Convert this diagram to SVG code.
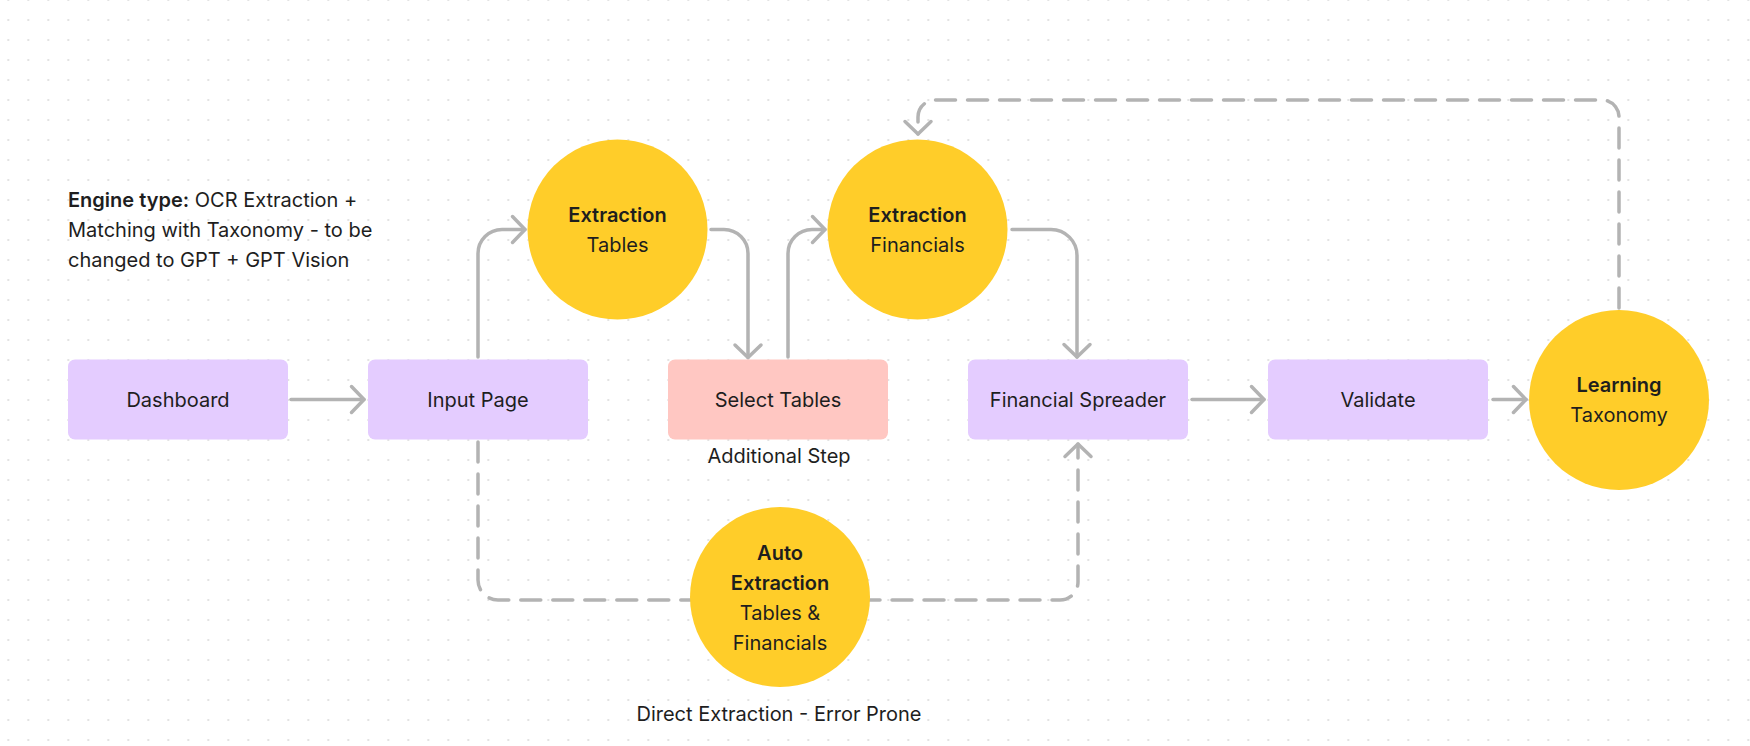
<svg xmlns="http://www.w3.org/2000/svg" width="1750" height="746" viewBox="0 0 1750 746">
  <defs>
    <pattern id="dots" patternUnits="userSpaceOnUse" x="-1.67" y="-10" width="20" height="20">
      <circle cx="10" cy="10" r="1.1" fill="#dcdcdc"/>
    </pattern>
    <marker id="arr" markerUnits="userSpaceOnUse" viewBox="-16 -16 20 32" refX="0" refY="0" markerWidth="20" markerHeight="32" orient="auto" overflow="visible">
      <path class="head" d="M -12.5 -13 L 0 0 L -12.5 13"/>
    </marker>
    <style>
      .bg { fill: #ffffff; }
      .box { fill: #E4CCFF; }
      .box-red { fill: #FFC7C2; }
      .circ { fill: #FFCD29; }
      .conn { fill: none; stroke: #B3B3B3; stroke-width: 3.5; stroke-linecap: round; stroke-linejoin: round; }
      .dash { stroke-dasharray: 20 12; }
      .head { fill: none; stroke: #B3B3B3; stroke-width: 3.5; stroke-linecap: round; stroke-linejoin: round; }
      text { font-family: Inter, "Liberation Sans", sans-serif; font-size: 20px; fill: #1E1E1E; }
      .c { text-anchor: middle; }
      .b { font-weight: 600; }
    </style>
  </defs>

  <rect class="bg" x="0" y="0" width="1750" height="746"/>
  <rect x="0" y="0" width="1750" height="746" fill="url(#dots)"/>

  <g id="connectors">
    <path class="conn" d="M 291 399.5 H 364" marker-end="url(#arr)"/>
    <path class="conn" d="M 478 357 V 253.5 A 24 24 0 0 1 502 229.5 H 525" marker-end="url(#arr)"/>
    <path class="conn" d="M 711 229.5 H 724 A 24 24 0 0 1 748 253.5 V 357.5" marker-end="url(#arr)"/>
    <path class="conn" d="M 788 357 V 253.5 A 24 24 0 0 1 812 229.5 H 825" marker-end="url(#arr)"/>
    <path class="conn" d="M 1012 229.5 H 1051 A 26 26 0 0 1 1077 255.5 V 357" marker-end="url(#arr)"/>
    <path class="conn" d="M 1192 399.5 H 1264" marker-end="url(#arr)"/>
    <path class="conn" d="M 1493 399.5 H 1526" marker-end="url(#arr)"/>
    <path class="conn dash" d="M 1619 308 V 117 A 17 17 0 0 0 1602 100 H 935 A 17 17 0 0 0 918 117 V 134" marker-end="url(#arr)"/>
    <path class="conn dash" d="M 478 442 V 580 A 20 20 0 0 0 498 600 H 700"/>
    <path class="conn dash" d="M 860 600 H 1060 A 18 18 0 0 0 1078 582 V 444" marker-end="url(#arr)"/>
  </g>

  <g id="note">
    <text x="68" y="207"><tspan class="b" font-weight="600">Engine type:</tspan> OCR Extraction +</text>
    <text x="68" y="237">Matching with Taxonomy - to be</text>
    <text x="68" y="267">changed to GPT + GPT Vision</text>
  </g>

  <g id="dashboard">
    <rect class="box" x="68" y="359.5" width="220" height="80" rx="7"/>
    <text class="c" x="178" y="406.5">Dashboard</text>
  </g>
  <g id="input-page">
    <rect class="box" x="368" y="359.5" width="220" height="80" rx="7"/>
    <text class="c" x="478" y="406.5">Input Page</text>
  </g>
  <g id="select-tables">
    <rect class="box-red" x="668" y="359.5" width="220" height="80" rx="7"/>
    <text class="c" x="778" y="406.5">Select Tables</text>
    <text class="c" x="779" y="463">Additional Step</text>
  </g>
  <g id="financial-spreader">
    <rect class="box" x="968" y="359.5" width="220" height="80" rx="7"/>
    <text class="c" x="1078" y="406.5">Financial Spreader</text>
  </g>
  <g id="validate">
    <rect class="box" x="1268" y="359.5" width="220" height="80" rx="7"/>
    <text class="c" x="1378" y="406.5">Validate</text>
  </g>

  <g id="extraction-tables">
    <circle class="circ" cx="617.5" cy="229.5" r="90"/>
    <text class="c b" x="617.5" y="221.5">Extraction</text>
    <text class="c" x="617.5" y="251.5">Tables</text>
  </g>
  <g id="extraction-financials">
    <circle class="circ" cx="917.5" cy="229.5" r="90"/>
    <text class="c b" x="917.5" y="221.5">Extraction</text>
    <text class="c" x="917.5" y="251.5">Financials</text>
  </g>
  <g id="learning-taxonomy">
    <circle class="circ" cx="1619" cy="400" r="90"/>
    <text class="c b" x="1619" y="392">Learning</text>
    <text class="c" x="1619" y="422">Taxonomy</text>
  </g>
  <g id="auto-extraction">
    <circle class="circ" cx="780" cy="597" r="90"/>
    <text class="c b" x="780" y="560">Auto</text>
    <text class="c b" x="780" y="590">Extraction</text>
    <text class="c" x="780" y="620">Tables &amp;</text>
    <text class="c" x="780" y="650">Financials</text>
    <text class="c" x="779" y="721">Direct Extraction - Error Prone</text>
  </g>
</svg>
